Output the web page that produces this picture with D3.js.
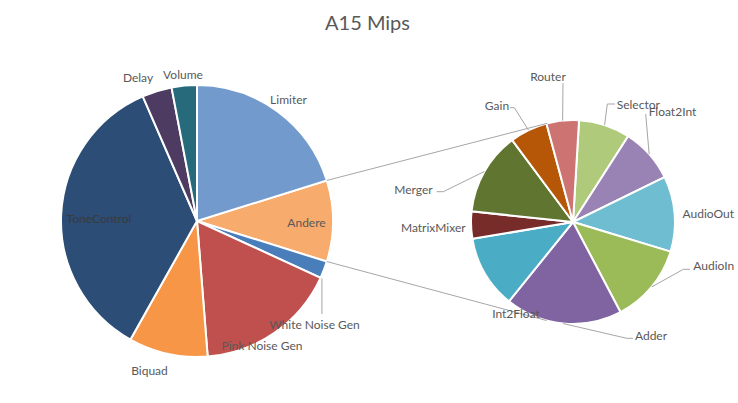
<!DOCTYPE html>
<html><head><meta charset="utf-8">
<script src="https://cdn.jsdelivr.net/npm/d3@7"></script>
<style>body{margin:0;background:#fff}</style></head>
<body>
<svg id="c" width="738" height="403"></svg>
<script>
// ---- data (percent of total A15 MIPS) ----
const mainLabels = ["White Noise Gen","Pink Noise Gen","Biquad","ToneControl","Delay","Volume","Limiter"];
const mainValues = [2.04, 16.89, 9.39, 35.33, 3.53, 3.00, 20.18];
const otherLabel = "Andere";
const subLabels = ["Selector","Float2Int","AudioOut","AudioIn","Adder","Int2Float","MatrixMixer","Merger","Gain","Router"];
const subValues = [0.785, 0.835, 1.151, 1.213, 1.786, 1.114, 0.415, 1.269, 0.576, 0.495];
const mainColors = ["#4A7EBB","#C0504D","#F79646","#2C4D75","#4D3B62","#276A7C","#729ACD"];
const otherColor = "#F7AB6D";
const subColors = ["#B0CA7C","#9983B5","#6FBDD1","#9BBB59","#8064A2","#4BACC6","#772C2A","#5F7530","#B65708","#CD7371"];
const title = "A15 Mips";

// ---- layout ----
const W = 738, H = 403;
const M = {cx: 197, cy: 221, r: 136};
const S = {cx: 573, cy: 222, r: 102, start: 3.4 * Math.PI / 180};
const labelPos = {
  "Limiter": [288.5, 99.5], "Andere": [306.5, 222], "White Noise Gen": [314.5, 324],
  "Pink Noise Gen": [262, 345], "Biquad": [149.5, 370], "ToneControl": [99, 218],
  "Delay": [138, 77], "Volume": [183, 74],
  "Selector": [638.3, 104], "Float2Int": [672.5, 111], "AudioOut": [708.3, 213],
  "AudioIn": [713.8, 265], "Adder": [651, 335], "Int2Float": [516, 313],
  "MatrixMixer": [433.3, 227], "Merger": [413.5, 189], "Gain": [497, 105], "Router": [548, 76]
};
const leaderEnds = {
  "Router": [[563, 83]],
  "Gain": [[514.3, 107.7], [510, 107.7]],
  "Selector": [[607.3, 104], [615, 104]],
  "Float2Int": [[645.7, 114]],
  "Merger": [[443.3, 191.7], [436.7, 191.7]],
  "AudioIn": [[683.3, 269.3], [690, 269.3]],
  "Adder": [[626.7, 338.3], [633, 338.3]]
};

const svg = d3.select("#c");
const FONT = "Lato, 'Open Sans', sans-serif";
const pt = (c, r, a) => [c.cx + r * Math.sin(a), c.cy - r * Math.cos(a)];

svg.append("text").attr("x", 367.5).attr("y", 22).attr("text-anchor", "middle")
  .attr("dominant-baseline", "central").attr("font-family", FONT).attr("font-size", 20)
  .attr("fill", "#595959").text(title);

// main pie
const otherTotal = d3.sum(subValues);
const mainData = [{label: otherLabel, value: otherTotal, color: otherColor}]
  .concat(mainLabels.map((l, i) => ({label: l, value: mainValues[i], color: mainColors[i]})));
const otherAngle = otherTotal / d3.sum(mainData, d => d.value) * 2 * Math.PI;
const mainPie = d3.pie().sort(null).value(d => d.value)
  .startAngle(Math.PI / 2 - otherAngle / 2).endAngle(Math.PI / 2 - otherAngle / 2 + 2 * Math.PI);
const mainArcs = mainPie(mainData);
const arcM = d3.arc().innerRadius(0).outerRadius(M.r);
const gM = svg.append("g").attr("transform", `translate(${M.cx},${M.cy})`);
gM.selectAll("path").data(mainArcs).join("path")
  .attr("d", arcM).attr("fill", d => d.data.color).attr("stroke", "#fff").attr("stroke-width", 2);

// secondary pie
const subData = subLabels.map((l, i) => ({label: l, value: subValues[i], color: subColors[i]}));
const subPie = d3.pie().sort(null).value(d => d.value).startAngle(S.start).endAngle(S.start + 2 * Math.PI);
const subArcs = subPie(subData);
const arcS = d3.arc().innerRadius(0).outerRadius(S.r);
const gS = svg.append("g").attr("transform", `translate(${S.cx},${S.cy})`);
gS.selectAll("path").data(subArcs).join("path")
  .attr("d", arcS).attr("fill", d => d.data.color).attr("stroke", "#fff").attr("stroke-width", 2);

// connector lines (tangents from the "Andere" slice edges to the secondary pie)
const oa = mainArcs[0];
function tangent(E, sign) {
  const dx = S.cx - E[0], dy = S.cy - E[1];
  const d = Math.hypot(dx, dy), base = Math.atan2(dy, dx);
  const a = base + sign * Math.asin(S.r / d), L = Math.sqrt(d * d - S.r * S.r);
  return [E[0] + L * Math.cos(a), E[1] + L * Math.sin(a)];
}
const E1 = pt(M, M.r, oa.startAngle), E2 = pt(M, M.r, oa.endAngle);
const line = d3.line();
[[E1, tangent(E1, -1)], [E2, tangent(E2, 1)]].forEach(p =>
  svg.append("path").attr("d", line(p)).attr("fill", "none").attr("stroke", "#A6A6A6").attr("stroke-width", 1));

// leader lines
const wng = mainArcs.find(d => d.data.label === "White Noise Gen");
const ws = pt(M, M.r + 1.5, wng.endAngle);
svg.append("path").attr("d", line([ws, [ws[0], 314]])).attr("fill", "none")
  .attr("stroke", "#A6A6A6").attr("stroke-width", 1);
subArcs.forEach(d => {
  const ends = leaderEnds[d.data.label];
  if (!ends) return;
  const s = pt(S, S.r, (d.startAngle + d.endAngle) / 2);
  svg.append("path").attr("d", line([s].concat(ends))).attr("fill", "none")
    .attr("stroke", "#A6A6A6").attr("stroke-width", 1);
});

// labels
const allLabels = mainData.map(d => d.label).concat(subLabels);
svg.append("g").selectAll("text").data(allLabels).join("text")
  .attr("x", d => labelPos[d][0]).attr("y", d => labelPos[d][1])
  .attr("text-anchor", "middle").attr("dominant-baseline", "central")
  .attr("font-family", FONT).attr("font-size", 12)
  .attr("fill", d => d === "ToneControl" ? "#3A3A3A" : "#595959")
  .text(d => d);
</script>
</body></html>
